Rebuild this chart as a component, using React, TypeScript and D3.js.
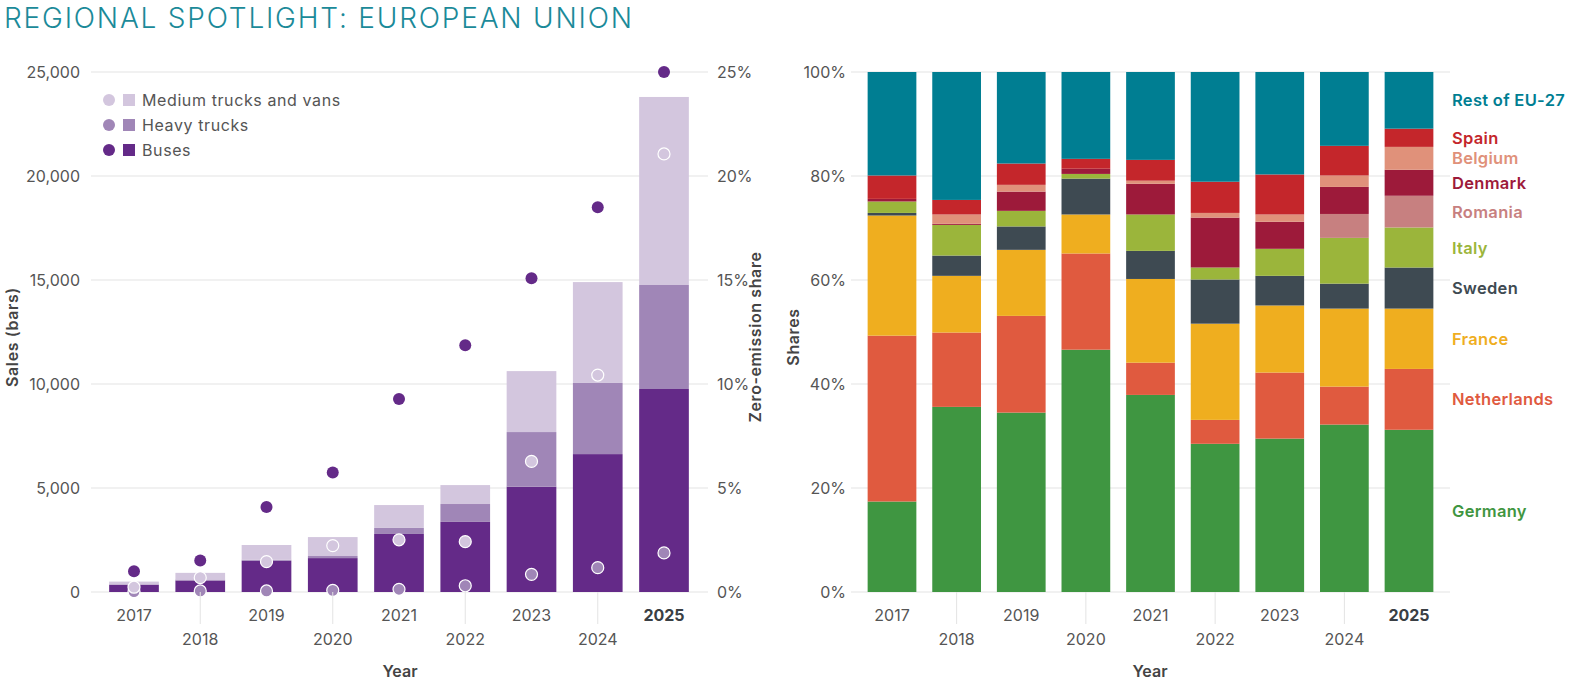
import { useEffect, useRef } from 'react';
import * as d3 from 'd3';

const years = ["2017", "2018", "2019", "2020", "2021", "2022", "2023", "2024", "2025"];

// sales (bars), vehicles
const busSales = [350, 550, 1500, 1630, 2790, 3370, 5060, 6630, 9760];
const heavySales = [20, 50, 50, 100, 290, 860, 2630, 3420, 5000];
const mediumSales = [130, 320, 710, 910, 1100, 910, 2930, 4850, 9040];

// zero-emission share, %
const busShare = [1.0, 1.52, 4.09, 5.75, 9.28, 11.86, 15.08, 18.5, 25.0];
const heavyShare = [0.02, 0.05, 0.05, 0.08, 0.13, 0.3, 0.85, 1.17, 1.88];
const mediumShare = [0.23, 0.69, 1.46, 2.23, 2.51, 2.42, 6.28, 10.43, 21.06];

const salesTicks = [0, 5000, 10000, 15000, 20000, 25000];
const shareTicks = [0, 5, 10, 15, 20, 25];
const pctTicks = [0, 20, 40, 60, 80, 100];

// market shares by country, %, bottom to top
const countries = ["Germany", "Netherlands", "France", "Sweden", "Italy", "Romania", "Denmark", "Belgium", "Spain", "Rest of EU-27"];
const germany = [17.4, 35.6, 34.5, 46.6, 37.9, 28.5, 29.5, 32.2, 31.2];
const netherlands = [31.9, 14.3, 18.6, 18.5, 6.2, 4.6, 12.7, 7.3, 11.7];
const france = [23.1, 10.9, 12.7, 7.5, 16.1, 18.5, 12.9, 15.0, 11.6];
const sweden = [0.5, 3.9, 4.5, 6.9, 5.4, 8.5, 5.7, 4.8, 7.9];
const italy = [2.2, 5.9, 3.0, 0.9, 7.0, 2.3, 5.2, 8.8, 7.7];
const romania = [0, 0, 0, 0, 0, 0, 0, 4.6, 6.1];
const denmark = [0.5, 0.2, 3.7, 1.0, 5.9, 9.6, 5.2, 5.2, 5.0];
const belgium = [0, 1.8, 1.3, 0, 0.6, 0.9, 1.4, 2.2, 4.4];
const spain = [4.5, 2.8, 4.1, 1.9, 4.0, 6.0, 7.7, 5.7, 3.5];
const restEU = [19.9, 24.6, 17.6, 16.7, 16.9, 21.1, 19.7, 14.2, 10.9];

const countryColors = ["#3f9641", "#e05a3f", "#efae1f", "#3e4a52", "#9bb53b", "#c78080", "#9d1a3a", "#e0917a", "#c4262b", "#007e92"];

const FONT = "Inter, 'Open Sans', sans-serif";

const App = () => {
  const svgRef = useRef(null);

  useEffect(() => {
    if (!svgRef.current) return;
    const svg = d3.select(svgRef.current);
    svg.selectAll("*").remove();

    const baseY = 592, topY = 72;

    svg.append("text")
      .attr("x", 4).attr("y", 28)
      .attr("font-size", 28).attr("font-weight", 300)
      .attr("letter-spacing", 1.8)
      .attr("fill", "#1b8a99")
      .text("REGIONAL SPOTLIGHT: EUROPEAN UNION");

    // ---------- left chart ----------
    const xL = d3.scalePoint().domain(years).range([134, 664]);
    const bwL = xL.step() * 0.75;
    const ySales = d3.scaleLinear().domain([0, 25000]).range([baseY, topY]);
    const yShare = d3.scaleLinear().domain([0, 25]).range([baseY, topY]);
    const left = svg.append("g");

    left.selectAll(".grid").data(salesTicks).enter().append("line")
      .attr("x1", 91).attr("x2", 708)
      .attr("y1", d => ySales(d)).attr("y2", d => ySales(d))
      .attr("stroke", "#e3e3e3");

    left.selectAll(".ylab").data(salesTicks).enter().append("text")
      .attr("x", 80).attr("y", d => ySales(d) + 6)
      .attr("text-anchor", "end").attr("font-size", 16).attr("fill", "#555")
      .text(d => d3.format(",")(d));

    left.selectAll(".y2lab").data(shareTicks).enter().append("text")
      .attr("x", 717).attr("y", d => yShare(d) + 6)
      .attr("font-size", 16).attr("fill", "#555")
      .text(d => d + "%");

    const stacked = [
      { vals: busSales, color: "#642a88" },
      { vals: heavySales, color: "#a086b7" },
      { vals: mediumSales, color: "#d3c6de" },
    ];
    years.forEach((yr, i) => {
      let acc = 0;
      stacked.forEach(s => {
        const v = s.vals[i];
        left.append("rect")
          .attr("x", xL(yr)! - bwL / 2)
          .attr("width", bwL)
          .attr("y", ySales(acc + v))
          .attr("height", ySales(acc) - ySales(acc + v))
          .attr("fill", s.color);
        acc += v;
      });
    });

    const dotSets = [
      { vals: busShare, fill: "#642a88", stroke: "none" },
      { vals: heavyShare, fill: "#a086b7", stroke: "#fff" },
      { vals: mediumShare, fill: "#d3c6de", stroke: "#fff" },
    ];
    dotSets.forEach(s => {
      left.selectAll(null).data(s.vals).enter().append("circle")
        .attr("cx", (d, i) => xL(years[i])!)
        .attr("cy", d => yShare(d))
        .attr("r", 6)
        .attr("fill", s.fill)
        .attr("stroke", s.stroke).attr("stroke-width", 1.2);
    });

    // legend
    const legend = [
      { label: "Medium trucks and vans", color: "#d3c6de" },
      { label: "Heavy trucks", color: "#a086b7" },
      { label: "Buses", color: "#642a88" },
    ];
    legend.forEach((l, i) => {
      const cy = 100 + i * 25;
      left.append("circle").attr("cx", 109).attr("cy", cy).attr("r", 6).attr("fill", l.color);
      left.append("rect").attr("x", 123).attr("y", cy - 6).attr("width", 12).attr("height", 12).attr("fill", l.color);
      left.append("text").attr("x", 142).attr("y", cy + 6).attr("font-size", 16)
        .attr("letter-spacing", 0.6).attr("fill", "#555").text(l.label);
    });

    // ---------- right chart ----------
    const xR = d3.scalePoint().domain(years).range([892, 1409]);
    const bwR = xR.step() * 0.754;
    const yPct = d3.scaleLinear().domain([0, 100]).range([baseY, topY]);
    const right = svg.append("g");

    right.selectAll(".grid").data(pctTicks).enter().append("line")
      .attr("x1", 851).attr("x2", 1450)
      .attr("y1", d => yPct(d)).attr("y2", d => yPct(d))
      .attr("stroke", "#e3e3e3");

    right.selectAll(".ylab").data(pctTicks).enter().append("text")
      .attr("x", 846).attr("y", d => yPct(d) + 6)
      .attr("text-anchor", "end").attr("font-size", 16).attr("fill", "#555")
      .text(d => d + "%");

    const shares = [germany, netherlands, france, sweden, italy, romania, denmark, belgium, spain, restEU];
    const table = years.map((yr, i) => {
      const row: any = { year: yr };
      countries.forEach((c, k) => { row[c] = shares[k][i]; });
      return row;
    });
    const series = d3.stack().keys(countries)(table);

    series.forEach((s, k) => {
      right.selectAll(null).data(s).enter().append("rect")
        .attr("x", d => xR(d.data.year)! - bwR / 2)
        .attr("width", bwR)
        .attr("y", d => yPct(d[1]))
        .attr("height", d => yPct(d[0]) - yPct(d[1]))
        .attr("fill", countryColors[k]);
      const last = s[s.length - 1];
      right.append("text")
        .attr("x", 1452).attr("y", yPct((last[0] + last[1]) / 2) + 6)
        .attr("font-size", 16.5).attr("font-weight", 600).attr("letter-spacing", 0.3)
        .attr("fill", countryColors[k])
        .text(countries[k]);
    });

    // ---------- x axes ----------
    [{ x: xL, cx: 400 }, { x: xR, cx: 1150 }].forEach(({ x, cx }) => {
      const g = svg.append("g");
      years.forEach((yr, i) => {
        const odd = i % 2 === 0;
        if (!odd) {
          g.append("line").attr("x1", x(yr)!).attr("x2", x(yr)!)
            .attr("y1", baseY).attr("y2", 624).attr("stroke", "#e3e3e3");
        }
        g.append("text")
          .attr("x", x(yr)!).attr("y", odd ? 621 : 645)
          .attr("text-anchor", "middle").attr("font-size", 16)
          .attr("font-weight", yr === "2025" ? 700 : 400)
          .attr("fill", yr === "2025" ? "#3a3f44" : "#555")
          .text(yr);
      });
      g.append("text").attr("x", cx).attr("y", 677)
        .attr("text-anchor", "middle").attr("font-size", 16).attr("font-weight", 600)
        .attr("fill", "#444").text("Year");
    });

    // axis titles
    const vTitle = (x: number, label: string) =>
      svg.append("text")
        .attr("transform", `translate(${x},337) rotate(-90)`)
        .attr("text-anchor", "middle").attr("font-size", 16).attr("font-weight", 600)
        .attr("letter-spacing", 0.6)
        .attr("fill", "#444").text(label);
    vTitle(18, "Sales (bars)");
    vTitle(761, "Zero-emission share");
    vTitle(799, "Shares");
  }, []);

  return (
    <svg ref={svgRef} width={1572} height={687}
      style={{ position: "absolute", left: 0, top: 0, fontFamily: FONT, background: "#fff" }} />
  );
};

export default App;
